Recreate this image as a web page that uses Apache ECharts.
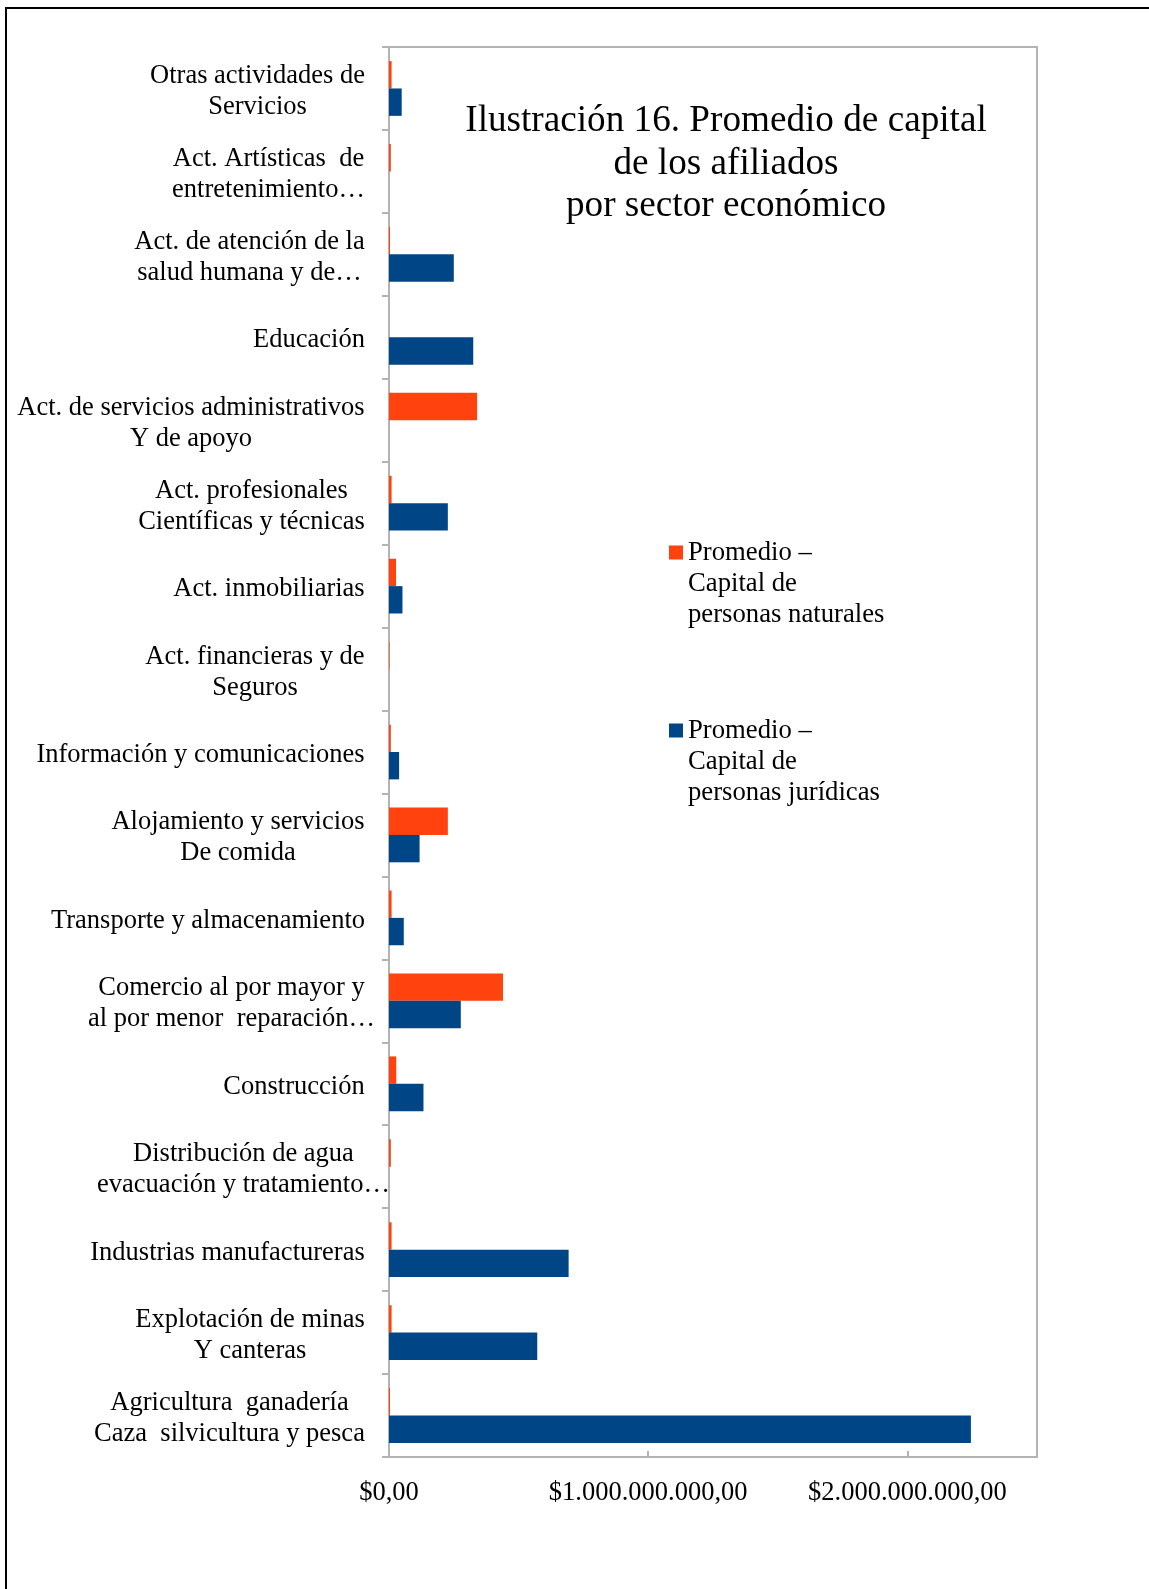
<!DOCTYPE html>
<html><head><meta charset="utf-8">
<script src="https://cdn.jsdelivr.net/npm/echarts@6/dist/echarts.min.js"></script>
<style>
html,body{margin:0;padding:0;background:#fff;overflow:hidden}
#frame{position:absolute;left:5px;top:7px;width:2000px;height:2000px;border-left:2px solid #000;border-top:2px solid #000;}
#c{position:absolute;left:0;top:0;width:1149px;height:1589px}
</style></head><body>
<div id="frame"></div><div id="c"></div>
<script>
// Categories (bottom to top)
const categories = [
  'Agricultura  ganadería\nCaza  silvicultura y pesca',
  'Explotación de minas\nY canteras',
  'Industrias manufactureras',
  'Distribución de agua\nevacuación y tratamiento…',
  'Construcción',
  'Comercio al por mayor y\nal por menor  reparación…',
  'Transporte y almacenamiento',
  'Alojamiento y servicios\nDe comida',
  'Información y comunicaciones',
  'Act. financieras y de\nSeguros',
  'Act. inmobiliarias',
  'Act. profesionales\nCientíficas y técnicas',
  'Act. de servicios administrativos\nY de apoyo',
  'Educación',
  'Act. de atención de la\nsalud humana y de…',
  'Act. Artísticas  de\nentretenimiento…',
  'Otras actividades de\nServicios'
];
// Promedio – Capital de personas naturales
const naturales = [0.004e9, 0.010e9, 0.010e9, 0.007e9, 0.028e9, 0.440e9, 0.010e9, 0.227e9, 0.007e9, 0.002e9, 0.027e9, 0.010e9, 0.340e9, 0, 0.004e9, 0.007e9, 0.010e9];
// Promedio – Capital de personas jurídicas
const juridicas = [2.245e9, 0.572e9, 0.693e9, 0, 0.133e9, 0.277e9, 0.057e9, 0.118e9, 0.039e9, 0, 0.052e9, 0.227e9, 0, 0.325e9, 0.250e9, 0, 0.049e9];
const seriesNames = ['Promedio –\nCapital de\npersonas naturales', 'Promedio –\nCapital de\npersonas jurídicas'];
const tickLabels = ['$0,00', '$1.000.000.000,00', '$2.000.000.000,00'];
const titleText = 'Ilustración 16. Promedio de capital\nde los afiliados\npor sector económico';

// style only: truncated labels whose ellipsis hangs past the label column (px)
const labelOverhangStyle = {3: 25, 5: 10};

const FONT = '"Liberation Serif", "Times New Roman", serif';
const FS = 26.5;
const LH = 31;
const cv = document.createElement('canvas').getContext('2d');
cv.font = FS + 'px "Liberation Serif"';
const rich = {};
categories.forEach((c, i) => {
  const w = Math.max(...c.split('\n').map(l => cv.measureText(l).width));
  const oh = labelOverhangStyle[i] || 0;
  rich['l' + i] = {width: Math.ceil(w), align: 'center', fontSize: FS, lineHeight: LH, fontFamily: FONT, color: '#000',
    padding: [0, -oh, 0, 0]};
});

// legend marker: a square sitting on the first of three text lines
const H = 3 * LH;
const legendIcon = 'path://M0,0L0.01,0L0,0.01Z M0,' + (LH / 2 - 7) + 'L14,' + (LH / 2 - 7) + 'L14,' + (LH / 2 + 7) + 'L0,' + (LH / 2 + 7) + 'Z M13.99,' + H + 'L14,' + H + 'L14,' + (H - 0.01) + 'Z';

const chart = echarts.init(document.getElementById('c'), null, {renderer: 'canvas'});
chart.setOption({
  animation: false,
  title: {
    text: titleText, left: 721, top: 95, textAlign: 'center',
    textStyle: {fontFamily: FONT, fontSize: 37.2, lineHeight: 42.5, fontWeight: 'normal', color: '#000'}
  },
  legend: {
    orient: 'vertical', left: 669, top: 537, padding: 0, itemGap: 178 - H,
    itemWidth: 14, itemHeight: H, icon: legendIcon, symbolKeepAspect: false,
    data: seriesNames,
    textStyle: {fontFamily: FONT, fontSize: 26.7, lineHeight: LH, color: '#000'}
  },
  grid: {left: 389, right: 112, top: 47, bottom: 132, show: true, borderColor: '#b3b3b3', borderWidth: 2, containLabel: false},
  xAxis: {
    type: 'value', min: 0, max: 2.5e9, interval: 1e9,
    splitLine: {show: false},
    axisLine: {show: true, lineStyle: {color: '#b3b3b3', width: 2}},
    axisTick: {show: true, inside: true, length: 6, lineStyle: {color: '#b3b3b3', width: 2}},
    axisLabel: {showMaxLabel: false, margin: 23, fontFamily: FONT, fontSize: 26.5, color: '#000',
      formatter: v => tickLabels[Math.round(v / 1e9)] || ''}
  },
  yAxis: {
    type: 'category', data: categories,
    axisLine: {show: true, lineStyle: {color: '#b3b3b3', width: 2}},
    axisTick: {show: true, length: 7, lineStyle: {color: '#b3b3b3', width: 2}},
    axisLabel: {margin: 24, interval: 0, rich: rich, fontFamily: FONT, fontSize: FS, lineHeight: LH, color: '#000',
      padding: [6, 0, 0, 0],
      formatter: (v, i) => v.split('\n').map(l => '{l' + i + '|' + l + '}').join('\n')}
  },
  series: [
    {name: seriesNames[0], type: 'bar', data: naturales, barGap: '0%', barCategoryGap: '34%', itemStyle: {color: '#ff420e'}},
    {name: seriesNames[1], type: 'bar', data: juridicas, barGap: '0%', barCategoryGap: '34%', itemStyle: {color: '#004586'}}
  ]
});
</script></body></html>
